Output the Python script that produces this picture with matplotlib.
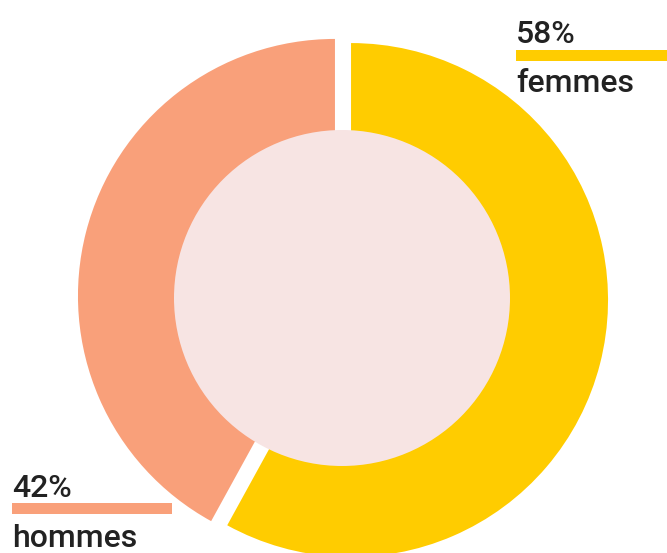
import matplotlib.pyplot as plt
from matplotlib.patches import Circle, Rectangle

# Données
categories = ["femmes", "hommes"]
valeurs = [58, 42]
etiquettes = ["58%", "42%"]
couleurs = ["#FFCC00", "#F9A07A"]

W, H = 667, 553

fig = plt.figure(figsize=(W / 100, H / 100), dpi=100)
ax = fig.add_axes([0, 0, 1, 1])
ax.set_xlim(0, W)
ax.set_ylim(0, H)
ax.axis("off")

# Anneau : parts légèrement écartées, disque rose par-dessus
cx, cy = 343, H - 298
ax.pie(valeurs, colors=couleurs, startangle=90, counterclock=False,
       radius=257, center=(cx, cy), explode=[8.3, 8.3],
       wedgeprops=dict(linewidth=0))
ax.add_patch(Circle((cx - 1, cy), 168, color="#F7E4E3", lw=0, zorder=3))
ax.set_xlim(0, W)
ax.set_ylim(0, H)
ax.set_aspect("equal")

# Étiquettes
police = dict(family="Roboto", size=23, color="#222222", weight="medium")

ax.text(516, H - 43, etiquettes[0], va="baseline", ha="left", **police)
ax.add_patch(Rectangle((516, H - 61), 160, 11, color=couleurs[0], lw=0))
ax.text(516, H - 92, categories[0], va="baseline", ha="left", **police)

ax.text(12, H - 497, etiquettes[1], va="baseline", ha="left", **police)
ax.add_patch(Rectangle((12, H - 514), 160, 11, color=couleurs[1], lw=0))
ax.text(12, H - 547, categories[1], va="baseline", ha="left", **police)

plt.savefig("out.png", dpi=100)
plt.close()
